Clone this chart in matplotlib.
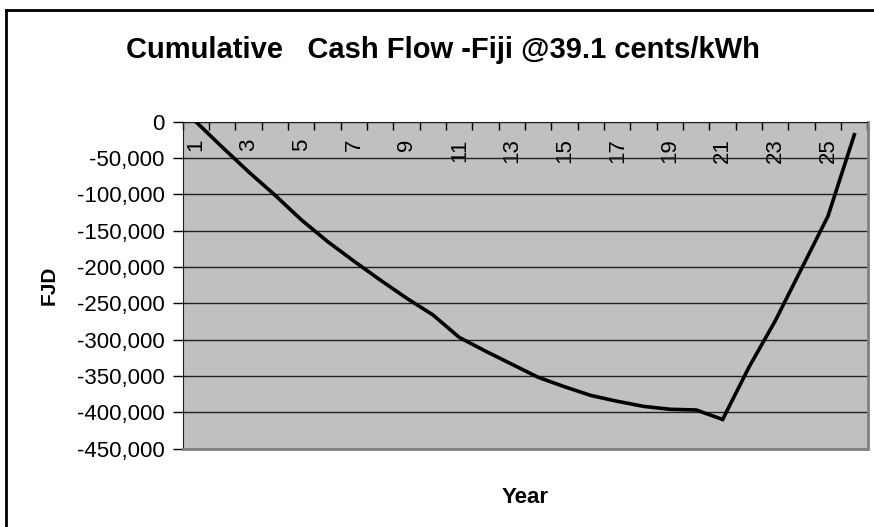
import numpy as np
import matplotlib
matplotlib.use("Agg")
import matplotlib.pyplot as plt
from matplotlib.ticker import FuncFormatter

plt.rcParams['font.family'] = ['Liberation Sans', 'DejaVu Sans']

# cumulative cash flow per year (FJD)
years = list(range(1, 27))
cash_flow = [0, -35000, -69000, -101000, -135000, -165000, -192000, -218000,
             -243000, -266000, -297000, -316000, -334000, -352000, -365000,
             -377000, -385000, -392000, -396000, -397000, -410000, -338000,
             -274000, -202000, -130000, -18000]
year_labels = [str(y) if y % 2 == 1 else '' for y in years]
y_ticks = list(range(0, -450001, -50000))

fig = plt.figure(figsize=(8.74, 5.27), dpi=100)
ax = fig.add_axes([182.7 / 874, 1 - 448.5 / 527, (867.5 - 182.7) / 874, (448.5 - 121.7) / 527])
ax.set_facecolor('#c0c0c0')

x = np.arange(len(years))
ax.plot(x, cash_flow, color='black', lw=2.6, solid_joinstyle='miter', zorder=3)

ax.set_xlim(-0.5, len(years) - 0.5)
ax.set_ylim(-450000, 0)

# y axis
ax.set_yticks(y_ticks)
ax.yaxis.set_major_formatter(FuncFormatter(lambda v, p: f'{int(v):,}'))
ax.tick_params(axis='y', direction='out', length=7, width=1, pad=6, labelsize=16)
ax.grid(axis='y', color='#202020', lw=1)
ax.set_axisbelow(True)

# category axis crosses at 0 -> sits on top, labels inside
ax.xaxis.tick_top()
ax.set_xticks(x)
ax.set_xticks(np.arange(len(years) + 1) - 0.5, minor=True)
ax.tick_params(axis='x', which='major', length=0, pad=-12,
               top=True, bottom=False, labeltop=True, labelbottom=False)
ax.tick_params(axis='x', which='minor', direction='in', length=6, width=1,
               top=True, bottom=False)
ax.set_xticklabels(year_labels, rotation=90, fontsize=16, va='top')

for side in ['right', 'bottom']:
    ax.spines[side].set_color('#808080')
    ax.spines[side].set_linewidth(2)
ax.spines['left'].set_color('#202020')
ax.spines['top'].set_color('#202020')

ax.set_xlabel('Year', fontsize=16, fontweight='bold', labelpad=28)
ax.xaxis.set_label_position('bottom')
ax.set_ylabel('FJD', fontsize=15, fontweight='bold', labelpad=13)

fig.text(0.507, 1 - 50 / 527, 'Cumulative   Cash Flow -Fiji @39.1 cents/kWh',
         ha='center', va='center', fontsize=21, fontweight='bold')

# chart area border (left and top visible)
fig.add_artist(plt.Line2D([6 / 874, 6 / 874], [0, 1 - 10 / 527], color='black', lw=2,
                          transform=fig.transFigure))
fig.add_artist(plt.Line2D([6 / 874, 1], [1 - 10 / 527, 1 - 10 / 527], color='black', lw=2,
                          transform=fig.transFigure))

fig.savefig('out.png', dpi=100)
